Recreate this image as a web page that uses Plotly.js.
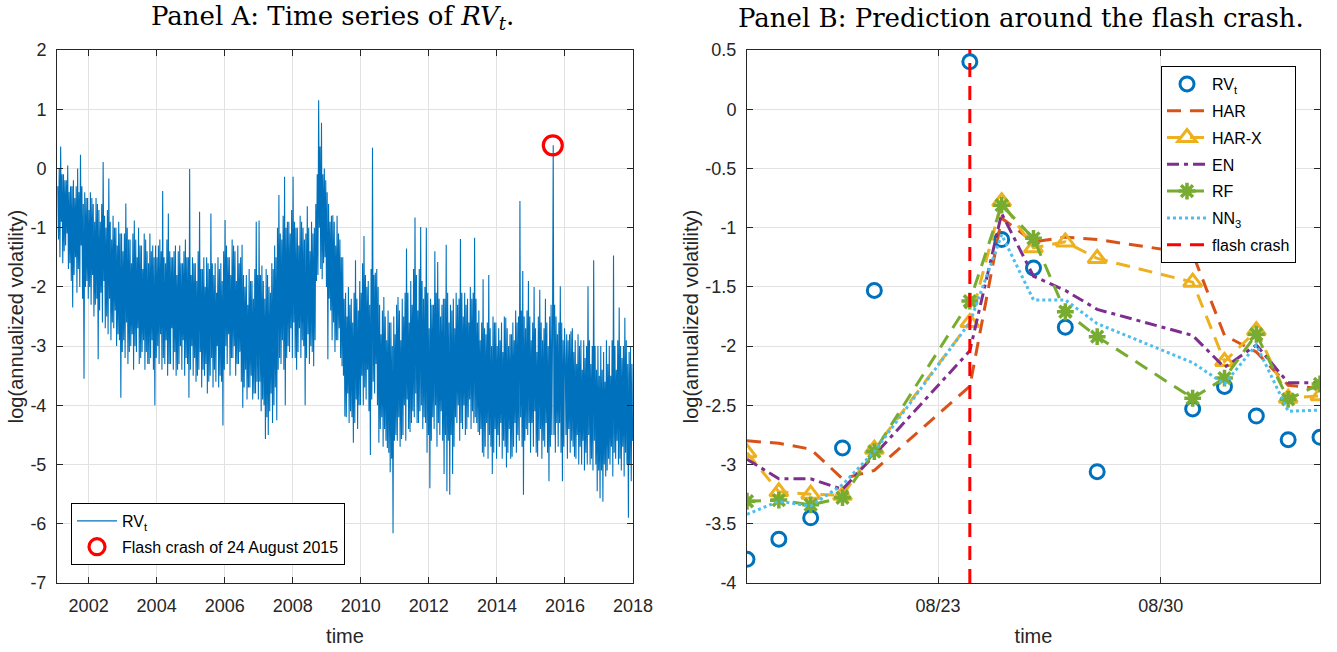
<!DOCTYPE html>
<html><head><meta charset="utf-8">
<script src="https://cdn.plot.ly/plotly-3.0.1.min.js"></script>
<style>html,body{margin:0;padding:0;background:#fff}#chart{width:1337px;height:652px}</style>
</head><body><div id="chart"></div>
<script>
// ---------- Panel A: daily log realized volatility (48 slots per year) ----------
const rv2001 = [-0.3,-1.2, 0.0,-1.5, 0.37,-0.9, -0.1,-1.6, -0.1,-1.4, -0.2,-1.3, -0.2,-1.1, 0.05,-1.7, -0.4,-1.6, -0.3,-1.9, -0.3,-2.35, -0.2,-1.8, -0.5,-1.5, -0.3,-2.1, 0.0,-1.7, -0.4,-2.0, 0.23,-1.3, -0.3,-2.2, -0.6,-3.55, -0.4,-2.0, -0.5,-1.9, -0.5,-2.2];
const rv2002 = [-0.7,-2.0, -0.4,-2.3, -0.5,-1.8, -0.6,-2.5, -0.9,-2.3, -0.5,-2.2, -0.6,-3.22, -0.7,-2.4, -0.9,-2.1, -0.6,-2.6, 0.11,-1.9, -0.8,-2.7, -1.0,-2.5, -0.7,-2.8, -0.17,-2.2, -0.9,-2.9, -1.2,-2.6, -0.8,-2.7, -1.0,-2.4, -1.0,-3.0, -1.3,-2.8, -0.9,-2.9, -1.1,-3.87, -1.1,-3.1];
const rv2003 = [-1.4,-2.9, -1.1,-3.2, -0.59,-2.6, -1.0,-3.3, -1.2,-3.1, -1.2,-3.0, -1.6,-2.8, -1.1,-3.4, -0.88,-3.0, -1.2,-3.1, -1.5,-2.7, -1.0,-3.3, -1.3,-3.2, -1.3,-3.1, -1.7,-2.9, -1.1,-3.4, -1.2,-3.1, -1.4,-3.3, -1.6,-3.3, -1.1,-3.2, -1.4,-2.9, -1.3,-3.4, -1.5,-4.0, -1.3,-3.2];
const rv2004 = [-1.5,-3.0, -1.3,-3.3, -1.2,-2.8, -1.4,-3.4, -0.38,-3.2, -1.5,-3.3, -1.6,-2.9, -1.2,-3.5, -0.76,-3.3, -1.4,-3.3, -1.5,-2.7, -1.5,-3.4, -1.4,-3.1, -1.3,-3.5, -1.8,-3.4, -1.4,-3.3, -1.3,-3.0, -1.6,-3.4, -1.6,-2.9, -1.4,-3.5, -1.2,-3.2, -1.5,-3.3, -1.5,-3.87, -0.01,-3.4];
const rv2005 = [-1.8,-3.0, -1.5,-3.5, -1.6,-3.2, -1.6,-3.6, -1.9,-3.5, -1.4,-3.4, -0.73,-3.1, -1.7,-3.7, -1.7,-3.4, -1.5,-3.5, -2.0,-3.3, -1.5,-3.8, -1.6,-3.6, -1.7,-3.5, -0.76,-3.2, -1.6,-3.7, -1.8,-3.4, -1.6,-3.6, -2.1,-3.0, -1.5,-3.7, -1.7,-3.5, -1.6,-3.6, -1.9,-4.34, -1.4,-3.4];
const rv2006 = [-0.87,-3.0, -1.3,-3.3, -1.5,-2.8, -1.5,-3.5, -1.8,-3.2, -1.2,-3.2, -1.3,-3.0, -1.4,-3.5, -1.9,-3.3, -1.3,-3.3, -1.6,-3.1, -1.5,-3.6, -1.29,-4.04, -1.8,-3.7, -2.0,-3.4, -1.8,-3.9, -2.3,-3.7, -1.7,-3.7, -1.9,-3.5, -1.9,-3.9, -2.2,-3.8, -1.7,-3.8, -0.9,-3.6, -1.8,-3.9];
const rv2007 = [-0.88,-3.6, -1.8,-4.1, -1.64,-3.9, -1.9,-4.0, -2.2,-4.57, -1.7,-4.2, -1.8,-4.5, -2.0,-4.1, -2.1,-3.8, -1.6,-4.3, -1.7,-4.0, -1.3,-3.7, -1.5,-4.25, -1.0,-3.4, -0.45,-3.2, -1.1,-3.3, -1.2,-2.9, -0.8,-3.4, -0.14,-4.0, -1.0,-3.2, -0.9,-3.0, -0.9,-3.1, -1.1,-2.7, -0.7,-3.2];
const rv2008 = [-0.14,-2.6, -0.9,-3.2, -1.0,-3.4, -1.0,-3.1, -1.3,-2.7, -0.8,-3.2, -0.9,-2.9, -1.0,-3.0, -1.2,-4.0, -1.1,-3.2, -0.64,-2.8, -1.0,-3.3, -1.4,-3.0, -0.9,-3.1, -1.1,-3.34, -1.0,-2.9, -0.6,-1.9, -0.1,-1.8, 1.15,-1.0, 0.37,-1.7, 0.77,-1.87, -0.1,-1.6, 0.0,-1.5, -0.2,-2.0];
const rv2009 = [-0.4,-3.22, -0.6,-2.2, -0.9,-2.4, -0.8,-2.9, -0.79,-2.6, -0.9,-3.1, -1.3,-2.9, -0.8,-2.9, -1.1,-2.7, -1.2,-3.2, -1.5,-3.34, -1.5,-3.5, -2.2,-4.19, -2.1,-4.2, -2.5,-3.8, -2.0,-4.3, -2.3,-4.1, -2.2,-4.2, -2.6,-4.63, -2.1,-4.3, -1.55,-3.9, -2.2,-4.4, -2.4,-4.0, -1.9,-4.0];
const rv2010 = [-2.1,-3.5, -1.6,-4.0, -1.14,-3.7, -1.8,-3.9, -2.0,-3.4, -1.9,-4.1, -2.3,-4.84, -1.7,-3.9, 0.35,-3.6, -1.8,-3.8, -1.76,-3.3, -1.7,-4.0, -2.0,-4.63, -2.3,-4.4, -2.8,-4.2, -2.4,-4.7, -2.17,-4.4, -2.5,-4.6, -2.9,-4.72, -2.4,-4.8, -2.6,-5.13, -2.6,-4.9, -3.0,-6.16, -2.5,-4.6];
const rv2011 = [-2.8,-4.5, -2.3,-4.6, -2.17,-4.2, -2.4,-4.7, -2.9,-4.57, -2.2,-4.5, -2.5,-4.0, -2.1,-4.6, -1.35,-3.9, -2.1,-4.4, -2.6,-4.45, -1.9,-4.3, -2.3,-4.1, -1.7,-4.2, -0.83,-3.8, -1.8,-4.3, -2.4,-4.3, -1.7,-4.1, -0.99,-4.0, -1.9,-4.4, -2.2,-4.2, -2.0,-4.3, -1.0,-4.8, -2.1,-4.5];
const rv2012 = [-2.7,-5.4, -2.2,-4.6, -2.3,-4.2, -2.3,-4.4, -1.4,-4.0, -2.1,-4.7, -1.58,-4.3, -2.2,-4.5, -2.5,-4.1, -2.3,-4.6, -2.2,-5.16, -2.2,-4.5, -1.29,-5.45, -2.1,-4.6, -2.6,-5.51, -2.3,-4.5, -2.4,-5.16, -2.2,-4.7, -2.7,-4.2, -2.1,-4.3, -2.3,-4.0, -2.2,-4.6, -1.19,-4.3, -2.1,-4.4];
const rv2013 = [-2.5,-4.0, -2.1,-4.5, -2.3,-4.4, -2.2,-4.2, -2.6,-3.9, -2.0,-4.4, -2.2,-4.1, -2.1,-4.3, -1.17,-4.2, -2.2,-4.3, -2.6,-4.45, -2.4,-4.5, -2.9,-4.4, -2.6,-4.8, -1.87,-4.87, -2.7,-4.7, -2.8,-4.3, -2.6,-4.9, -1.8,-4.5, -2.7,-4.7, -3.0,-5.16, -2.5,-4.8, -2.6,-4.4, -2.6,-4.9];
const rv2014 = [-3.0,-4.5, -2.7,-4.7, -2.9,-4.3, -2.6,-4.9, -3.1,-4.6, -2.5,-4.7, -2.52,-5.05, -2.7,-4.8, -3.0,-4.4, -2.8,-4.9, -2.8,-4.87, -2.6,-4.7, -2.9,-4.3, -2.4,-4.8, -2.6,-4.5, -2.5,-4.6, -0.55,-4.2, -2.4,-4.7, -1.73,-5.51, -2.5,-4.6, -2.7,-4.4, -2.4,-4.5, -1.9,-4.3, -2.5,-4.8];
const rv2015 = [-2.9,-4.3, -2.6,-4.7, -2.0,-4.1, -2.7,-4.8, -3.1,-4.87, -2.5,-4.6, -2.05,-4.4, -2.6,-4.9, -2.9,-4.6, -2.7,-4.7, -2.2,-4.3, -2.6,-4.8, -3.0,-5.28, -2.5,-4.7, -2.3,-4.5, -2.8, 0.39, -4.5,-2.3, -4.8,-2.5, -4.3,-2.8, -4.7,-2.6, -4.3,-1.99, -4.8,-2.6, -5.28,-2.9, -4.7,-2.7];
const rv2016 = [-3.2,-4.5, -2.8,-4.9, -2.9,-4.4, -2.8,-4.8, -2.75,-4.6, -2.7,-4.7, -3.1,-4.87, -2.9,-4.9, -3.3,-4.5, -2.8,-5.0, -3.0,-4.7, -2.9,-5.0, -3.4,-4.6, -2.9,-5.1, -3.2,-4.8, -3.0,-5.0, -1.99,-4.5, -2.9,-5.0, -3.3,-4.9, -3.0,-5.1, -1.55,-4.6, -3.0,-5.0, -3.4,-5.45, -3.0,-5.1];
const rv2017 = [-3.5,-5.57, -3.0,-5.1, -3.4,-5.63, -3.1,-5.0, -3.6,-5.2, -2.9,-5.1, -3.3,-4.9, -3.0,-5.0, -3.5,-4.7, -2.9,-5.2, -1.47,-4.8, -3.0,-4.9, -3.4,-4.6, -2.9,-5.0, -2.35,-4.9, -3.0,-5.1, -3.2,-4.7, -3.0,-5.2, -2.52,-4.8, -2.9,-5.0, -3.3,-5.9, -3.1,-5.0, -3.0,-5.28, -3.3,-4.6];
const rvYears = [2001,2002,2003,2004,2005,2006,2007,2008,2009,2010,2011,2012,2013,2014,2015,2016,2017];
const rvBlocks = [rv2001,rv2002,rv2003,rv2004,rv2005,rv2006,rv2007,rv2008,rv2009,rv2010,rv2011,rv2012,rv2013,rv2014,rv2015,rv2016,rv2017];
const crashDate = '2015-08-24';
const crashValue = 0.39;
const yearTickVals = ['2002-01-01','2004-01-01','2006-01-01','2008-01-01','2010-01-01','2012-01-01','2014-01-01','2016-01-01','2018-01-01'];
const yearTickText = ['2002','2004','2006','2008','2010','2012','2014','2016','2018'];
const yTickValsA = [2,1,0,-1,-2,-3,-4,-5,-6,-7];
const yTickTextA = ['2','1','0','-1','-2','-3','-4','-5','-6','-7'];

// ---------- Panel B: prediction around the flash crash ----------
const datesB = ['2015-08-17','2015-08-18','2015-08-19','2015-08-20','2015-08-21','2015-08-24','2015-08-25','2015-08-26','2015-08-27','2015-08-28','2015-08-31','2015-09-01','2015-09-02','2015-09-03','2015-09-04'];
const rvB  = [-3.80,-3.63,-3.45,-2.86,-1.53, 0.40,-1.10,-1.34,-1.84,-3.06,-2.53,-2.34,-2.59,-2.79,-2.77];
const har  = [-2.80,-2.82,-2.87,-3.12,-3.05,-2.34,-0.92,-1.12,-1.08,-1.10,-1.22,-1.91,-2.05,-2.33,-2.36];
const harx = [-2.90,-3.23,-3.25,-3.26,-2.87,-1.80,-0.78,-1.17,-1.12,-1.26,-1.46,-2.13,-1.87,-2.44,-2.42];
const en   = [-2.955,-3.12,-3.12,-3.21,-2.92,-2.04,-0.88,-1.41,-1.53,-1.69,-1.91,-2.18,-1.99,-2.31,-2.31];
const rf   = [-3.31,-3.30,-3.34,-3.28,-2.89,-1.62,-0.81,-1.09,-1.71,-1.92,-2.44,-2.27,-1.90,-2.45,-2.32];
const nn3  = [-3.42,-3.31,-3.35,-3.17,-2.89,-1.80,-1.06,-1.61,-1.61,-1.81,-2.14,-2.32,-1.99,-2.55,-2.54];
const crashLineY = [-4, 0.5];
const xTickValsB = ['2015-08-23','2015-08-30'];
const xTickTextB = ['08/23','08/30'];
const yTickValsB = [0.5,0,-0.5,-1,-1.5,-2,-2.5,-3,-3.5,-4];
const yTickTextB = ['0.5','0','-0.5','-1','-1.5','-2','-2.5','-3','-3.5','-4'];

// ---------- build panel A x positions (slot centres within each year) ----------
const SLOTS = 48;
function decYearToDate(y){
  const yr = Math.floor(y);
  const s = Date.UTC(yr,0,1), e = Date.UTC(yr+1,0,1);
  return new Date(s + (y-yr)*(e-s)).toISOString().slice(0,19).replace('T',' ');
}
const rvX = [], rvY = [];
rvBlocks.forEach((blk,bi)=>{
  const offset = Math.max(0, SLOTS - blk.length);
  blk.forEach((v,k)=>{ rvX.push(decYearToDate(rvYears[bi] + (k+offset+0.5)/SLOTS)); rvY.push(v); });
});

const W = 1337, H = 652;
const axA = {l:57, r:633}, axB = {l:747, r:1320}, axT = 50, axBtm = 583;
const sans = 'Liberation Sans, Arial, sans-serif';
const serif = 'DejaVu Serif, Liberation Serif, serif';
const ink = '#262626';
const grid = '#e2e2e2';

function xAxisBase(l,r){
  return {domain:[l/W, r/W], type:'date', ticks:'inside', ticklen:6, tickcolor:ink, showline:true,
    linecolor:ink, linewidth:1, mirror:'ticks', showgrid:true, gridcolor:grid, gridwidth:1, zeroline:false,
    ticklabelstandoff:6,
    tickfont:{family:sans, size:18, color:ink}, title:{text:'time', font:{family:sans,size:20,color:ink}, standoff:14}};
}
function yAxisBase(){
  return {domain:[(H-axBtm)/H, (H-axT)/H], ticks:'inside', ticklen:6, tickcolor:ink, showline:true,
    linecolor:ink, linewidth:1, mirror:'ticks', showgrid:true, gridcolor:grid, gridwidth:1, zeroline:false,
    ticklabelstandoff:6,
    tickfont:{family:sans, size:18, color:ink},
    title:{text:'log(annualized volatility)', font:{family:sans,size:20,color:ink}, standoff:1}};
}

const dashL = '14px,9px';
const traces = [
  {x:rvX, y:rvY, type:'scatter', mode:'lines', name:'RV<sub>t</sub>', line:{color:'#0072BD', width:1.1},
   xaxis:'x', yaxis:'y', legend:'legend2', legendgroup:'a1'},
  {x:[crashDate], y:[crashValue], type:'scatter', mode:'markers', name:'Flash crash of 24 August 2015',
   marker:{symbol:'circle-open', size:19, color:'#FF0000', line:{width:3.2, color:'#FF0000'}},
   xaxis:'x', yaxis:'y', legend:'legend2', legendgroup:'a2'},

  {x:datesB, y:rvB, type:'scatter', mode:'markers', name:'RV<sub>t</sub>',
   marker:{symbol:'circle-open', size:14, color:'#0072BD', line:{width:3,color:'#0072BD'}},
   xaxis:'x2', yaxis:'y2', legendgroup:'b1'},
  {x:datesB, y:har, type:'scatter', mode:'lines', name:'HAR', line:{color:'#D95319', width:3, dash:dashL},
   xaxis:'x2', yaxis:'y2', legendgroup:'b2'},
  {x:datesB, y:harx, type:'scatter', mode:'lines+markers', name:'HAR-X', line:{color:'#EDB120', width:3, dash:dashL},
   marker:{symbol:'triangle-up-open', size:16, color:'#EDB120', line:{width:3,color:'#EDB120'}},
   xaxis:'x2', yaxis:'y2', legendgroup:'b3'},
  {x:datesB, y:en, type:'scatter', mode:'lines', name:'EN', line:{color:'#7E2F8E', width:3, dash:'12px,5px,4px,5px'},
   xaxis:'x2', yaxis:'y2', legendgroup:'b4'},
  {x:datesB, y:rf, type:'scatter', mode:'lines+markers', name:'RF', line:{color:'#77AC30', width:3, dash:dashL},
   marker:{symbol:'asterisk-open', size:14, color:'#77AC30', line:{width:3.5,color:'#77AC30'}},
   xaxis:'x2', yaxis:'y2', legendgroup:'b5'},
  {x:datesB, y:nn3, type:'scatter', mode:'lines', name:'NN<sub>3</sub>', line:{color:'#4DBEEE', width:3, dash:'3px,3px'},
   xaxis:'x2', yaxis:'y2', legendgroup:'b6'},
  {x:[crashDate, crashDate], y:crashLineY, type:'scatter', mode:'lines', name:'flash crash',
   line:{color:'#FF0000', width:3, dash:dashL}, xaxis:'x2', yaxis:'y2', legendgroup:'b7'}
];

const xa = xAxisBase(axA.l, axA.r);
Object.assign(xa, {range:[decYearToDate(2001.07), '2018-01-01'], tickvals:yearTickVals, ticktext:yearTickText, anchor:'y'});
const ya = yAxisBase();
Object.assign(ya, {range:[-7,2], tickvals:yTickValsA, ticktext:yTickTextA, anchor:'x'});
const xb = xAxisBase(axB.l, axB.r);
Object.assign(xb, {range:['2015-08-17','2015-09-04'], tickvals:xTickValsB, ticktext:xTickTextB, anchor:'y2'});
const yb = yAxisBase();
Object.assign(yb, {range:[-4,0.5], tickvals:yTickValsB, ticktext:yTickTextB, anchor:'x2'});

const layout = {
  width:W, height:H, margin:{l:0,r:0,t:0,b:0}, paper_bgcolor:'#fff', plot_bgcolor:'#fff',
  showlegend:true, font:{family:sans, color:'#000'},
  xaxis:xa, yaxis:ya, xaxis2:xb, yaxis2:yb,
  legend:{x:1161/W, y:(H-66)/H, xanchor:'left', yanchor:'top', bgcolor:'#fff', bordercolor:'#000', borderwidth:1,
    font:{family:sans,size:16,color:'#000'}, tracegroupgap:3, itemwidth:40},
  legend2:{x:71/W, y:(H-503)/H, xanchor:'left', yanchor:'top', bgcolor:'#fff', bordercolor:'#000', borderwidth:1,
    font:{family:sans,size:16,color:'#000'}, tracegroupgap:2, itemwidth:40},
  annotations:[
    {xref:'paper', yref:'paper', x:332/W, y:(H-18)/H, xanchor:'center', yanchor:'middle', showarrow:false,
     text:'Panel A: Time series of <i>RV<sub>t</sub></i>.', font:{family:serif, size:26, color:'#000'}},
    {xref:'paper', yref:'paper', x:1021/W, y:(H-18)/H, xanchor:'center', yanchor:'middle', showarrow:false,
     text:'Panel B: Prediction around the flash crash.', font:{family:serif, size:26, color:'#000'}}
  ]
};
Plotly.newPlot('chart', traces, layout, {displayModeBar:false, staticPlot:true});
</script>
</body></html>
